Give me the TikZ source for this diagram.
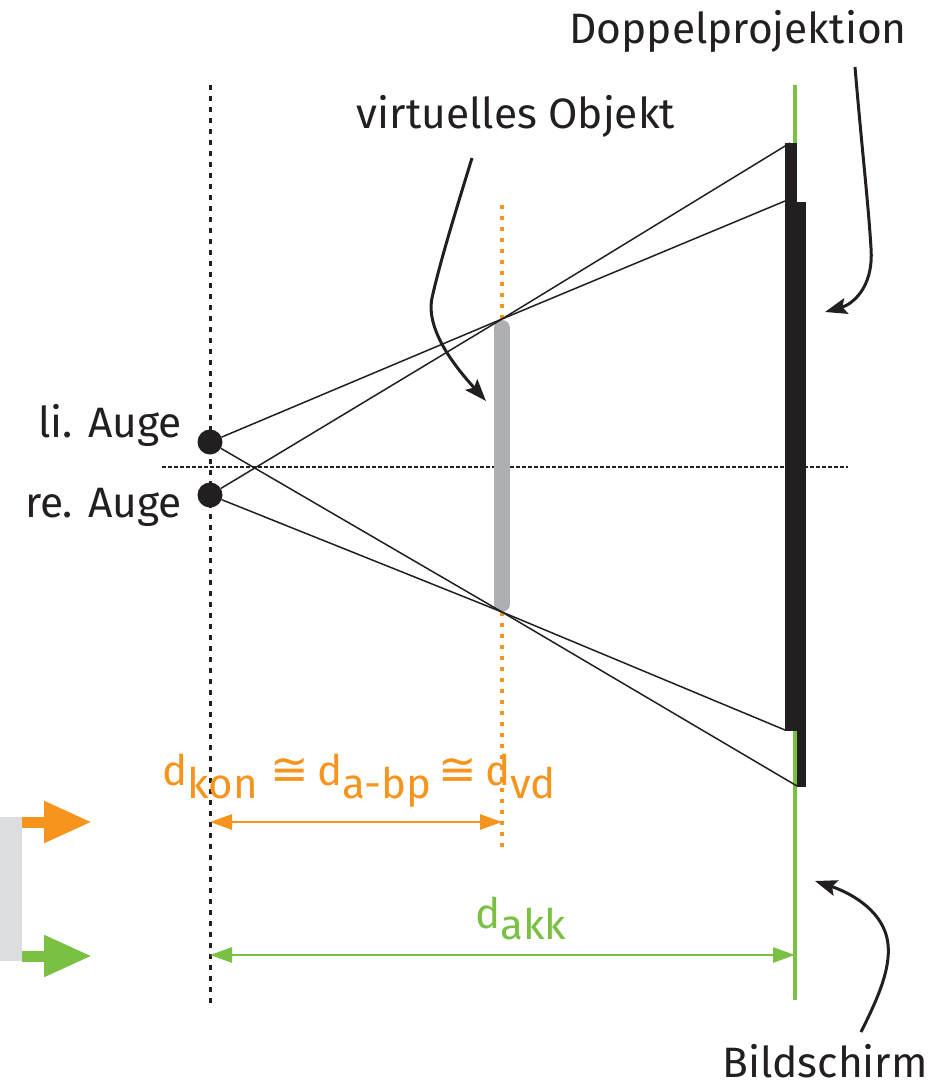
\documentclass[tikz,border=0pt]{standalone}
\usepackage{fontspec}
\setmainfont{Fira Sans}
\newfontfamily\symfont{DejaVu Sans}
\usetikzlibrary{arrows.meta}
\definecolor{cOrange}{HTML}{F7941D}
\definecolor{cGreen}{HTML}{7AC143}
\definecolor{cGray}{HTML}{AEAFB2}
\definecolor{cLight}{HTML}{DCDDDF}
\definecolor{cInk}{HTML}{231F20}
\newcommand{\approxsym}{{\symfont\fontsize{46}{52}\selectfont ≅}}
\tikzset{
  lbl/.style={text=cInk, inner sep=0pt, font=\fontsize{42.5}{50}\selectfont},
  dlbl/.style={inner sep=0pt, font=\fontsize{42}{50}\selectfont},
  eyedot/.style={circle, fill=cInk, minimum size=25pt, inner sep=0pt},
  ray/.style={cInk, line width=1.5pt},
  curvarrow/.style={cInk, line width=3pt, -{Stealth[length=22pt,width=16pt,inset=4pt]}},
  dimarrow/.style={line width=2.7pt, {Triangle[length=22pt,width=15pt]}-{Triangle[length=22pt,width=15pt]}},
  bigarrow/.style={line width=11pt, -{Triangle[length=48pt,width=39pt]}},
}
\begin{document}
\begin{tikzpicture}[x=1pt,y=-1pt]
\useasboundingbox (0,0) rectangle (941,1087);

% key coordinates
\coordinate (eyeTop) at (210,85);
\coordinate (eyeBot) at (210,1005);
\coordinate (objTopDot) at (502,205);
\coordinate (objBotDot) at (502,850);
\coordinate (oT) at (502,319);
\coordinate (oB) at (502,612);
\coordinate (scrT) at (795,85);
\coordinate (scrB) at (795,1000);
\coordinate (hL) at (162,467);
\coordinate (hR) at (848,467);

% vertical dotted eye line
\draw[cInk, line width=3pt, dash pattern=on 5pt off 6pt] (eyeTop) -- (eyeBot);
% horizontal axis
\draw[cInk, line width=1.2pt, dash pattern=on 4pt off 2pt] (hL) -- (hR);
% orange dotted line
\draw[cOrange, line width=4.5pt, dash pattern=on 4pt off 7pt] (objTopDot) -- (objBotDot);
% screen (green)
\draw[cGreen, line width=3.5pt] (scrT) -- (scrB);
% double projection bars
\fill[cInk] (785,143) rectangle (797,731);
\fill[cInk] (797,202) rectangle (806,787);
% virtual object
\draw[cGray, line width=16pt, line cap=round] (502,328) -- (502,604);

% eyes
\node[eyedot] (le) at (210,442) {};
\node[eyedot] (re) at (210,495) {};

% screen hit points
\coordinate (sRT) at (790,143);
\coordinate (sLT) at (785,201);
\coordinate (sRB) at (785,730);
\coordinate (sLB) at (797,786);

% rays
\draw[ray] (le) -- (oT) -- (sLT);
\draw[ray] (re) -- (oT) -- (sRT);
\draw[ray] (le) -- (oB) -- (sLB);
\draw[ray] (re) -- (oB) -- (sRB);

% labels
\node[lbl, anchor=base] (dp) at (738,43) {Doppelprojektion};
\node[lbl, anchor=base] (vo) at (516,128) {virtuelles Objekt};
\node[lbl, anchor=base east] (liA) at (182,437) {li. Auge};
\node[lbl, anchor=base east] (reA) at (182,517) {re. Auge};
\node[lbl, anchor=base] (bs) at (825,1077) {Bildschirm};

% curved pointer arrows
\coordinate (dpS) at (855,67);
\coordinate (dpE) at (825,312);
\draw[curvarrow] (dpS) .. controls (862,150) and (868,200) .. (871,248)
  .. controls (874,290) and (850,305) .. (dpE);
\coordinate (voS) at (472,158);
\coordinate (voE) at (486,401);
\draw[curvarrow] (voS) .. controls (456,210) and (440,262) .. (432,298)
  .. controls (425,332) and (460,372) .. (voE);
\coordinate (bsS) at (861,1032);
\coordinate (bsE) at (815,881);
\draw[curvarrow] (bsS) .. controls (878,998) and (893,965) .. (887,938)
  .. controls (880,908) and (848,892) .. (bsE);

% dimension arrows
\coordinate (kL) at (210,822);
\coordinate (kR) at (502,822);
\draw[cOrange, dimarrow] (kL) -- (kR);
\coordinate (aL) at (210,955);
\coordinate (aR) at (795,955);
\draw[cGreen, dimarrow] (aL) -- (aR);

\node[dlbl, text=cOrange, anchor=base west] (dkon) at (162,785)
  {d\raisebox{-13pt}{kon}\hspace{13pt}\approxsym\hspace{8pt}d\raisebox{-13pt}{a-bp}\hspace{7pt}\approxsym\hspace{8pt}d\raisebox{-13pt}{vd}};
\node[dlbl, text=cGreen, anchor=base west] (dakk) at (475,928)
  {d\raisebox{-11pt}{akk}};

% legend on the left
\fill[cLight] (0,817) rectangle (22,961);
\coordinate (lo1) at (22,822);
\coordinate (lo2) at (92,822);
\draw[cOrange, bigarrow] (lo1) -- (lo2);
\coordinate (lg1) at (22,956);
\coordinate (lg2) at (92,956);
\draw[cGreen, bigarrow] (lg1) -- (lg2);
\end{tikzpicture}
\end{document}
